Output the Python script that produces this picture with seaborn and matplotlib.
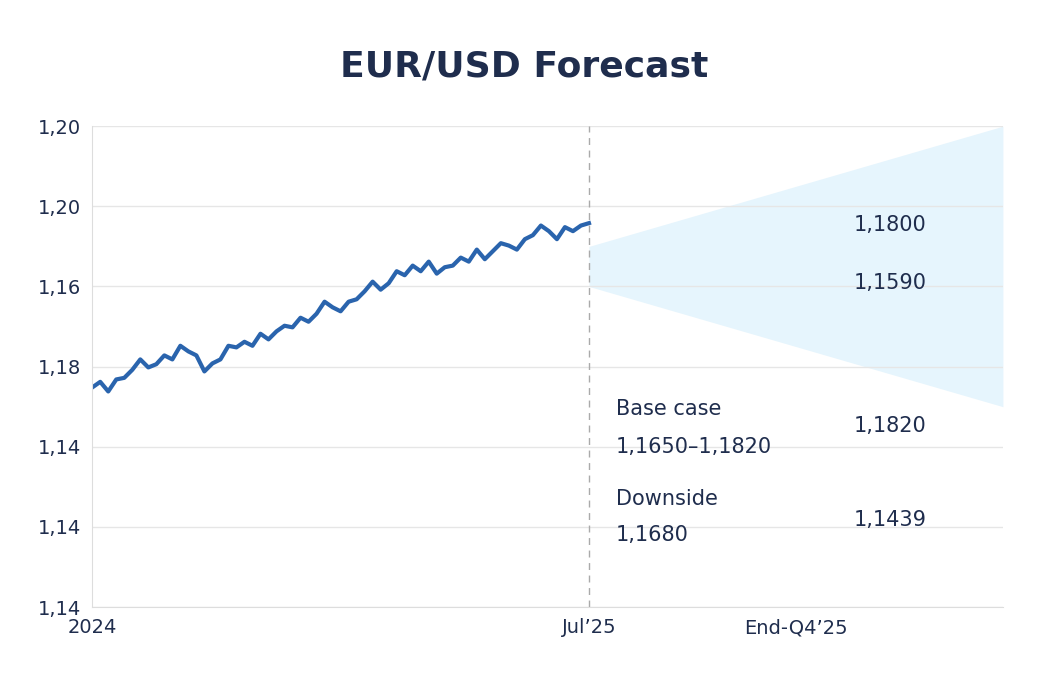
import matplotlib.pyplot as plt
import seaborn as sns
import numpy as np

# EUR/USD path, weekly-ish samples from 2024 to Jul'25 (axis units, ticks at 0..6)
rate = [2.74, 2.81, 2.69, 2.84, 2.86, 2.96, 3.09, 2.99, 3.03, 3.14, 3.09, 3.26, 3.19,
        3.14, 2.94, 3.04, 3.09, 3.26, 3.24, 3.31, 3.26, 3.41, 3.34, 3.44, 3.51, 3.49,
        3.61, 3.56, 3.66, 3.81, 3.74, 3.69, 3.81, 3.84, 3.94, 4.06, 3.96, 4.04, 4.19,
        4.14, 4.26, 4.19, 4.31, 4.16, 4.24, 4.26, 4.36, 4.31, 4.46, 4.34, 4.44, 4.54,
        4.51, 4.46, 4.59, 4.64, 4.76, 4.69, 4.59, 4.74, 4.69, 4.76, 4.79]
ytick_labels = ['1,14', '1,14', '1,14', '1,18', '1,16', '1,20', '1,20']
xtick_pos = [0, 18, 25.5]
xtick_labels = ['2024', 'Jul\u201925', 'End-Q4\u201925']
cone_x = [18, 33]
cone_low = [4.0, 2.5]
cone_high = [4.5, 6.0]

navy = '#1f2d4d'
fig = plt.figure(figsize=(10.48, 6.97), dpi=100)
ax = fig.add_axes([0.088, 0.129, 0.869, 0.69])
x = np.linspace(0, 18, len(rate))
ax.fill_between(cone_x, cone_low, cone_high, color='#e6f5fd', linewidth=0)
sns.lineplot(x=x, y=rate, color='#2a64ad', linewidth=3.0, ax=ax)
ax.axvline(18, color='#aaaaaa', linestyle=(0, (5, 4)), linewidth=1)

ax.set_xlim(0, 33)
ax.set_ylim(0, 6)
ax.set_yticks(range(7))
ax.set_yticklabels(ytick_labels)
ax.set_xticks(xtick_pos)
ax.set_xticklabels(xtick_labels)
ax.grid(axis='y', color='#e6e6e6', linewidth=1)
ax.tick_params(length=0, labelsize=14, colors=navy, pad=8)
for s in ['top', 'right']:
    ax.spines[s].set_visible(False)
for s in ['left', 'bottom']:
    ax.spines[s].set_color('#dddddd')

tf = ax.transAxes
for txt, yp in [('1,1800', 0.794), ('1,1590', 0.673), ('1,1820', 0.376), ('1,1439', 0.181)]:
    ax.text(0.916, yp, txt, transform=tf, ha='right', va='center', fontsize=15, color=navy)
for txt, yp in [('Base case', 0.411), ('1,1650\u20131,1820', 0.333), ('Downside', 0.225), ('1,1680', 0.150)]:
    ax.text(0.575, yp, txt, transform=tf, ha='left', va='center', fontsize=15, color=navy)

fig.text(0.5, 0.905, 'EUR/USD Forecast', ha='center', va='center', fontsize=26,
         fontweight='bold', color=navy)
fig.savefig('out.png', dpi=100)
